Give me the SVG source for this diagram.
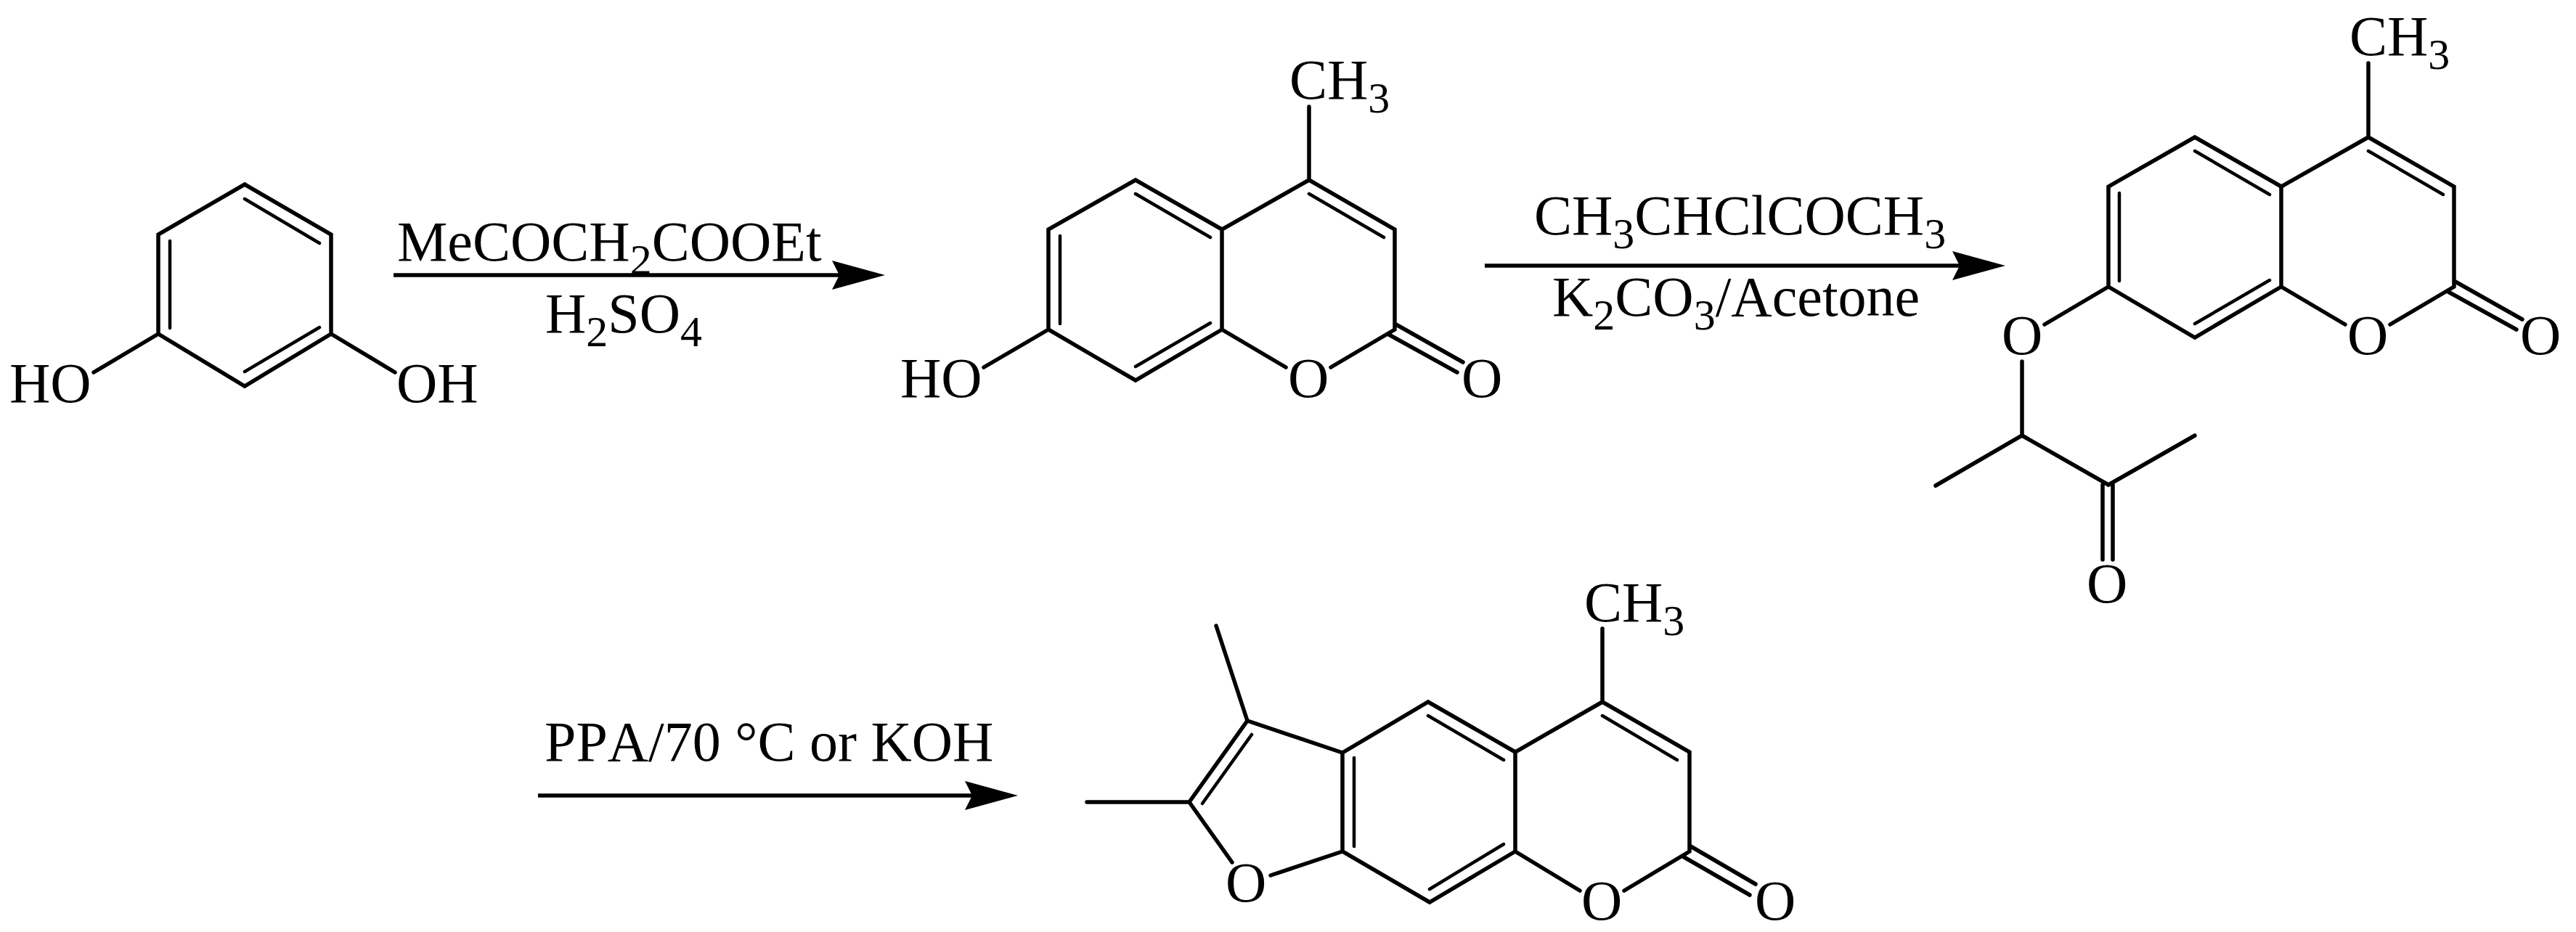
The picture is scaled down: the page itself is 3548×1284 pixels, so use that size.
<svg xmlns="http://www.w3.org/2000/svg" width="3548" height="1284" viewBox="0 0 3548 1284">
<style>
.b{fill:none;stroke:#000;stroke-width:5.5;stroke-linecap:round;stroke-linejoin:miter}
.i{fill:none;stroke:#000;stroke-width:4.5;stroke-linecap:round}
.a{fill:none;stroke:#000;stroke-width:5.5}
text{font-family:"Liberation Serif","Times New Roman",serif;font-size:78px;fill:#000;font-kerning:none}
.s{font-size:60px}
</style>
<defs>
<marker id="h" markerUnits="userSpaceOnUse" markerWidth="76" markerHeight="44" refX="10" refY="22" orient="auto" viewBox="0 0 76 44"><path d="M0,2 L73,22 L0,42 L10,22 Z" fill="#000"/></marker>
</defs>
<rect width="3548" height="1284" fill="#fff"/>
<g id="connectors">
<line class="a" x1="542" y1="379" x2="1156" y2="379" marker-end="url(#h)"/>
<line class="a" x1="2045" y1="366" x2="2699" y2="366" marker-end="url(#h)"/>
<line class="a" x1="741" y1="1096" x2="1339" y2="1096" marker-end="url(#h)"/>
</g>
<g id="labels">
<text id="l1" x="547" y="359">MeCOCH<tspan class="s" dy="19">2</tspan><tspan dy="-19">COOEt</tspan></text>
<text id="l2" x="751" y="458">H<tspan class="s" dy="19">2</tspan><tspan dy="-19">SO</tspan><tspan class="s" dy="19">4</tspan></text>
<text id="l3" x="2113" y="323">CH<tspan class="s" dy="19">3</tspan><tspan dy="-19">CHClCOCH</tspan><tspan class="s" dy="19">3</tspan></text>
<text id="l4" x="2138" y="435">K<tspan class="s" dy="19">2</tspan><tspan dy="-19">CO</tspan><tspan class="s" dy="19">3</tspan><tspan dy="-19">/Acetone</tspan></text>
<text id="l5" x="750" y="1048">PPA/70 °C or KOH</text>
</g>
<g id="resorcinol">
<path class="b" d="M337,254 L456,323 V460 L337,532 L218,460 V323 Z M218,460 L129,513 M456,460 L544,513"/>
<path class="i" d="M337,274 L440,335 M234,332 V452 M440,451 L337,512"/>
<text x="13" y="554">HO</text>
<text x="546" y="554">OH</text>
</g>
<g id="hydroxymethylcoumarin">
<path class="b" d="M1803,248 L1921,316 V454 L1833,506 M1771,506 L1683,454 V316 L1803,248 M1683,316 L1564,248 L1444,316 V454 L1564,524 L1683,454 M1444,454 L1355,506 M1803,248 V147 M1921,446 L2015,499 M1913,461 L2007,513"/>
<path class="i" d="M1564,267 L1667,327 M1460,325 V446 M1667,445 L1564,505 M1803,267 L1906,327"/>
<text x="1776" y="136">CH<tspan class="s" dy="19">3</tspan></text>
<text x="1240" y="547">HO</text>
<text x="1774" y="547">O</text>
<text x="2013" y="547">O</text>
</g>
<g id="ketoether">
<path class="b" d="M3262,189 L3380,257 V395 L3292,447 M3230,447 L3142,395 V257 L3262,189 M3142,257 L3023,189 L2904,257 V395 L3023,465 L3142,395 M2904,395 L2816,447 M3262,189 V87 M3380,387 L3474,440 M3372,402 L3466,454 M2785,498 V600 L2666,669 M2785,600 L2904,668 L3023,600 M2896,668 V771 M2910,668 V771"/>
<path class="i" d="M3023,208 L3126,268 M2919,266 V387 M3126,386 L3023,446 M3262,208 L3365,268"/>
<text x="3236" y="76">CH<tspan class="s" dy="19">3</tspan></text>
<text x="2757" y="488">O</text>
<text x="3233" y="488">O</text>
<text x="3471" y="488">O</text>
<text x="2874" y="830">O</text>
</g>
<g id="furocoumarin">
<path class="b" d="M2207,967 L2327,1036 V1173 L2237,1227 M2176,1227 L2087,1173 V1036 L2207,967 M2087,1036 L1967,967 L1849,1037 V1173 L1969,1243 L2087,1173 M2207,967 V866 M2327,1165 L2418,1218 M2318,1180 L2410,1233 M1849,1037 L1718,993 L1638,1105 L1697,1188 M1750,1206 L1849,1173 M1718,993 L1675,862 M1638,1105 H1497"/>
<path class="i" d="M1967,986 L2071,1047 M1865,1044 V1166 M2071,1163 L1969,1225 M2207,986 L2310,1047 M1724,1012 L1656,1107"/>
<text x="2182" y="856">CH<tspan class="s" dy="19">3</tspan></text>
<text x="1688" y="1242">O</text>
<text x="2178" y="1267">O</text>
<text x="2417" y="1267">O</text>
</g>
</svg>
